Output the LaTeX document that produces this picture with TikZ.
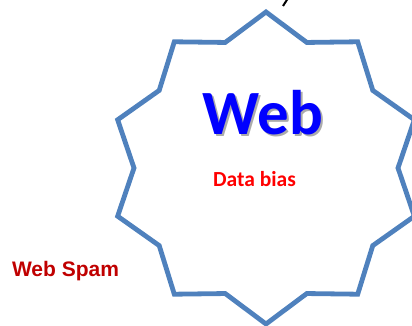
\documentclass[tikz,border=0pt]{standalone}
\usepackage{fontspec}
\setmainfont{Carlito}
\newfontfamily\arialfont{Liberation Sans}
\definecolor{starblue}{RGB}{79,129,189}
\definecolor{webblue}{RGB}{0,0,255}
\definecolor{biasred}{RGB}{255,0,0}
\definecolor{spamred}{RGB}{192,0,0}
\begin{document}
\begin{tikzpicture}[x=1pt,y=1pt,
  txt/.style={inner sep=0pt,anchor=base},
  starline/.style={draw=starblue,line width=4.8pt,line join=miter}]
\useasboundingbox (0,0) rectangle (412,326);
\begin{scope}
\clip (0,0) rectangle (412,326);
\begin{scope}[shift={(266,158)}]
\draw[starline] (90:156)
  \foreach \i in {1,...,19} {
    \ifodd\i -- (90+\i*18:132) \else -- (90+\i*18:156) \fi
  } -- cycle;
\end{scope}
\coordinate (m1) at (283,320);
\coordinate (m2) at (287.5,327);
\draw[black,line width=2pt] (m1) -- (m2);
\end{scope}
% Web with shadow
\node[txt,text=black!55,opacity=0.6] (webshadow) at (264.8,189.2) {\fontsize{63}{63}\selectfont\bfseries Web};
\node[txt,text=webblue] (web) at (263,191) {\fontsize{63}{63}\selectfont\bfseries Web};
\node[txt,text=biasred] (bias) at (254.5,139.5) {\fontsize{21.5}{21.5}\selectfont\bfseries Data bias};
\node[txt,text=spamred] (spam) at (65.5,49) {\fontsize{21}{21}\selectfont\arialfont\bfseries Web Spam};
\end{tikzpicture}
\end{document}
